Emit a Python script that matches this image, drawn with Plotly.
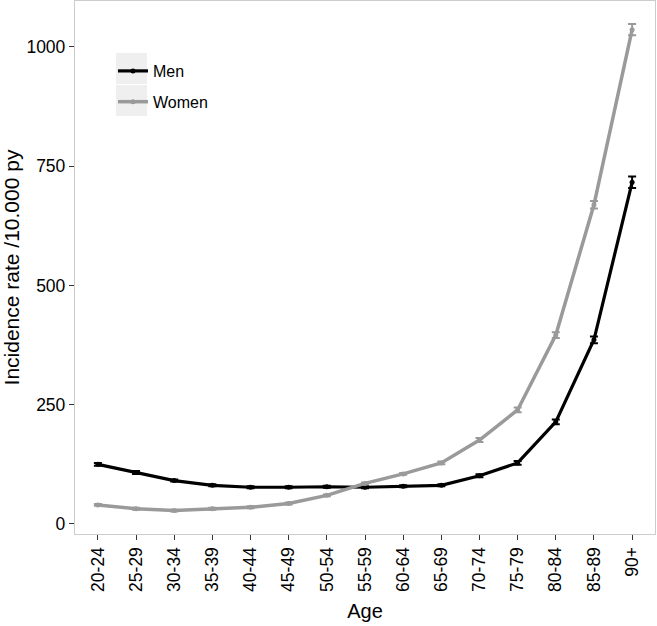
import plotly.graph_objects as go

age_groups = ["20-24", "25-29", "30-34", "35-39", "40-44", "45-49", "50-54", "55-59",
              "60-64", "65-69", "70-74", "75-79", "80-84", "85-89", "90+"]
men_rate = [125, 108, 91, 81, 77, 77, 78, 77, 79, 81, 101, 128, 214, 386, 716]
men_err = [3, 3, 2, 2, 2, 2, 2, 2, 2, 2, 3, 4, 5, 7, 12]
women_rate = [40, 32, 28, 32, 35, 43, 60, 85, 105, 128, 176, 239, 396, 669, 1036]
women_err = [2, 2, 2, 2, 2, 2, 2, 2, 2, 3, 4, 5, 6, 8, 12]
y_ticks = [0, 250, 500, 750, 1000]

x_idx = list(range(len(age_groups)))

fig = go.Figure()
fig.add_trace(go.Scatter(
    x=x_idx, y=men_rate, name="Men", mode="lines+markers", legendgroup="m",
    line=dict(color="black", width=3.2),
    marker=dict(color="black", size=5),
    error_y=dict(type="data", array=men_err, color="black", thickness=2, width=4),
))
fig.add_trace(go.Scatter(
    x=x_idx, y=women_rate, name="Women", mode="lines+markers", legendgroup="w",
    line=dict(color="#9a9a9a", width=3.5),
    marker=dict(color="#9a9a9a", size=5),
    error_y=dict(type="data", array=women_err, color="#9a9a9a", thickness=2, width=4),
))

# grey legend key backgrounds (ggplot style)
for y0, y1 in [(53, 84), (85, 116)]:
    fig.add_shape(type="rect", xref="paper", yref="paper",
                  x0=(116 - 75) / 580, x1=(147 - 75) / 580,
                  y0=1 - (y1 - 1) / 533, y1=1 - (y0 - 1) / 533,
                  fillcolor="#efefef", line=dict(width=0), layer="below")

fig.update_layout(
    width=657, height=626,
    margin=dict(l=75, r=2, t=1, b=92),
    paper_bgcolor="white", plot_bgcolor="white",
    font=dict(family="Liberation Sans, Arial, sans-serif", color="black", size=18),
    showlegend=True,
    legend=dict(x=(113 - 75) / 580, y=1 - (54 - 1) / 533, xanchor="left", yanchor="top",
                bgcolor="rgba(0,0,0,0)", font=dict(size=16), itemwidth=30,
                traceorder="grouped", tracegroupgap=7),
    xaxis=dict(
        range=[-0.6, 14.6], tickmode="array", tickvals=x_idx, ticktext=age_groups,
        tickangle=-90, ticks="outside", ticklen=5, tickcolor="#333333",
        showline=True, linecolor="#cccccc", linewidth=1.3, mirror=True,
        showgrid=False, zeroline=False, automargin=False,
        title=dict(text="Age", font=dict(size=20), standoff=13),
        tickfont=dict(size=17.5),
    ),
    yaxis=dict(
        range=[-21, 1096], tickmode="array", tickvals=y_ticks,
        ticks="outside", ticklen=5, tickcolor="#333333",
        showline=True, linecolor="#cccccc", linewidth=1.3, mirror=True,
        showgrid=False, zeroline=False, automargin=False,
        title=dict(text="Incidence rate /10.000 py", font=dict(size=21), standoff=8),
        tickfont=dict(size=17.5),
    ),
)

fig.write_html("out.html", config={"displayModeBar": False},
               post_script="document.body.style.margin='0';document.body.style.overflow='hidden';")
